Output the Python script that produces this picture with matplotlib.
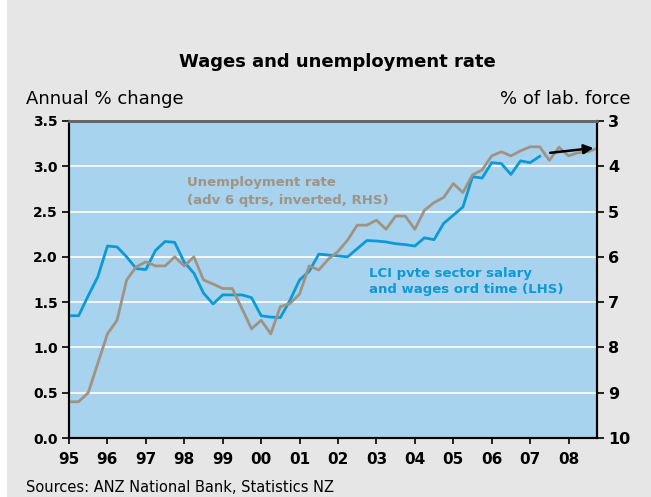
import matplotlib.pyplot as plt
import numpy as np

# LCI private sector salary & wages, ordinary time (annual % change), quarterly from 1995 Q1
lci_start = 1995.0
lci = [1.35, 1.35, 1.57, 1.78, 2.12, 2.11, 2.00, 1.87, 1.86, 2.07, 2.17, 2.16,
       1.94, 1.82, 1.60, 1.48, 1.58, 1.58, 1.58, 1.55, 1.35, 1.335, 1.33, 1.52,
       1.745, 1.84, 2.03, 2.02, 2.01, 2.00, 2.09, 2.18, 2.175, 2.165, 2.145, 2.135,
       2.12, 2.21, 2.19, 2.37, 2.46, 2.55, 2.885, 2.87, 3.04, 3.03, 2.91, 3.06,
       3.04, 3.11]

# Unemployment rate (% of labour force), advanced 6 quarters, plotted inverted on RHS
unemp_start = 1995.0
unemp = [9.2, 9.2, 9.0, 8.35, 7.70, 7.4, 6.51, 6.22, 6.11, 6.2, 6.2, 6.0,
         6.2, 6.0, 6.51, 6.6, 6.7, 6.7, 7.14, 7.59, 7.4, 7.7, 7.1, 7.03,
         6.82, 6.2, 6.29, 6.05, 5.88, 5.63, 5.3, 5.3, 5.19, 5.39, 5.1, 5.1,
         5.39, 4.97, 4.80, 4.69, 4.38, 4.58, 4.19, 4.08, 3.77, 3.68, 3.77, 3.66,
         3.57, 3.57, 3.87, 3.58, 3.77, 3.70, 3.68, 3.60]

years = list(range(1995, 2009))
year_labels = [f"{y % 100:02d}" for y in years]

blue = '#0b9ad6'
grey = '#a09384'
panel = '#a7d3ee'
bg = '#e6e6e6'

t_lci = lci_start + 0.25 * np.arange(len(lci))
t_un = unemp_start + 0.25 * np.arange(len(unemp))

fig = plt.figure(figsize=(6.51, 4.97), dpi=100, facecolor=bg)
# thin white strip on the left edge
fig.patches.append(plt.Rectangle((0, 0), 7 / 651, 1, transform=fig.transFigure,
                                 facecolor='white', edgecolor='none'))

ax = fig.add_axes([69 / 651, 59 / 497, 528 / 651, 317 / 497])
ax.set_facecolor(panel)
ax2 = ax.twinx()

ax.set_xlim(1995, 2008.74)
ax.set_ylim(0, 3.5)
ax2.set_ylim(10, 3)

ax.set_yticks(np.arange(0, 3.51, 0.5))
ax.set_yticklabels([f"{v:.1f}" for v in np.arange(0, 3.51, 0.5)],
                   fontsize=10, fontweight='bold')
ax2.set_yticks(range(3, 11))
ax2.set_yticklabels([str(v) for v in range(3, 11)], fontsize=11.5, fontweight='bold')
ax.set_xticks(years)
ax.set_xticklabels(year_labels, fontsize=11, fontweight='bold')

ax.grid(axis='y', color='white', linewidth=1.2)
ax.set_axisbelow(True)

ax2.plot(t_un, unemp, color=grey, linewidth=2)
ax.plot(t_lci, lci, color=blue, linewidth=2, zorder=3)

for a in (ax, ax2):
    for s in ('left', 'bottom', 'right'):
        a.spines[s].set_color('black')
        a.spines[s].set_linewidth(1.5)
    a.spines['top'].set_color('#666666')
    a.spines['top'].set_linewidth(2)
ax.tick_params(axis='y', direction='out', length=5, width=1.2, pad=3)
ax.tick_params(axis='x', direction='out', length=4, width=1.2, pad=6)
ax2.tick_params(axis='y', direction='out', length=5, width=1.2, pad=3)

ax2.annotate('', xy=(2008.72, 3.59), xytext=(2007.45, 3.71),
             arrowprops=dict(arrowstyle='-|>', color='black', lw=1.8,
                             mutation_scale=14))

ax.text(1998.07, 2.89, 'Unemployment rate\n(adv 6 qtrs, inverted, RHS)',
        color=grey, fontsize=9.5, fontweight='bold', va='top', ha='left',
        linespacing=1.45)
ax.text(2002.8, 1.89, 'LCI pvte sector salary\nand wages ord time (LHS)',
        color=blue, fontsize=9.5, fontweight='bold', va='top', ha='left',
        linespacing=1.35)

fig.text(0.518, 1 - 62 / 497, 'Wages and unemployment rate', ha='center', va='center',
         fontsize=13, fontweight='bold')
fig.text(26 / 651, 1 - 99 / 497, 'Annual % change', ha='left', va='center', fontsize=13)
fig.text(630 / 651, 1 - 99 / 497, '% of lab. force', ha='right', va='center', fontsize=13)
fig.text(26 / 651, 1 - 487 / 497, 'Sources: ANZ National Bank, Statistics NZ',
         ha='left', va='center', fontsize=10.5)

fig.savefig('out.png', dpi=100, facecolor=bg)
